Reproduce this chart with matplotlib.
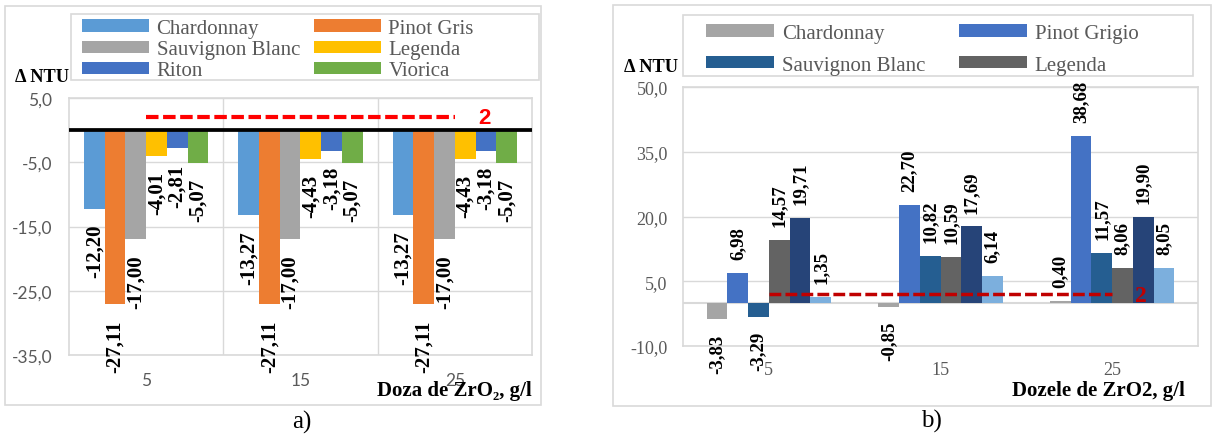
import numpy as np
import matplotlib.pyplot as plt
from matplotlib.patches import Rectangle

doses = ['5', '15', '25']
limit = 2

# a) turbidity change after ZrO2 treatment
a_names = ['Chardonnay', 'Pinot Gris', 'Sauvignon Blanc', 'Legenda', 'Riton', 'Viorica']
a_chardonnay = [-12.20, -13.27, -13.27]
a_pinot_gris = [-27.11, -27.11, -27.11]
a_sauvignon = [-17.00, -17.00, -17.00]
a_legenda = [-4.01, -4.43, -4.43]
a_riton = [-2.81, -3.18, -3.18]
a_viorica = [-5.07, -5.07, -5.07]
a_colors = ['#5B9BD5', '#ED7D31', '#A5A5A5', '#FFC000', '#4472C4', '#70AD47']

# b) same doses, second set of wines (only first four named in legend)
b_names = ['Chardonnay', 'Pinot Grigio', 'Sauvignon Blanc', 'Legenda', 'Riton', 'Viorica']
b_chardonnay = [-3.83, -0.85, 0.40]
b_pinot_grigio = [6.98, 22.70, 38.68]
b_sauvignon = [-3.29, 10.82, 11.57]
b_legenda = [14.57, 10.59, 8.06]
b_riton = [19.71, 17.69, 19.90]
b_viorica = [1.35, 6.14, 8.05]
b_colors = ['#A5A5A5', '#4472C4', '#255E91', '#636363', '#264478', '#7CAFDD']
b_in_legend = 4

W, H = 1214, 439
GRID = '#D9D9D9'
GRAY = '#595959'
SERIF = ['Liberation Serif', 'DejaVu Serif']

fig = plt.figure(figsize=(W / 100, H / 100), dpi=100)


def rect(x0, y0, x1, y1):
    # pixel box (origin top-left) -> figure fraction
    return [x0 / W, 1 - y1 / H, (x1 - x0) / W, (y1 - y0) / H]


def frame(x0, y0, x1, y1):
    r = rect(x0, y0, x1, y1)
    fig.add_artist(Rectangle((r[0], r[1]), r[2], r[3], transform=fig.transFigure,
                             fill=False, ec=GRID, lw=1.2))


def grouped_bars(ax, series, colors, names, width, nlegend, labsize, gap):
    x = np.arange(len(doses))
    n = len(series)
    for i, (vals, c, name) in enumerate(zip(series, colors, names)):
        xs = x + (i - (n - 1) / 2) * width
        ax.bar(xs, vals, width, color=c, zorder=2,
               label=name if i < nlegend else '_nolegend_')
        for xi, v in zip(xs, vals):
            ax.annotate(f'{v:.2f}'.replace('.', ','), (xi, v),
                        xytext=(0, gap if v > 0 else -gap), textcoords='offset points',
                        rotation=90, ha='center', va='bottom' if v > 0 else 'top',
                        fontsize=labsize, fontweight='bold', family=SERIF, zorder=5)
    ax.set_xticks(x)
    ax.set_xticklabels(doses)
    ax.set_xlim(-0.5, len(doses) - 0.5)
    ax.set_axisbelow(True)
    ax.yaxis.grid(True, color=GRID, lw=1)
    for s in ax.spines.values():
        s.set_color(GRID)
        s.set_linewidth(1.2)
    return x


def row_legend(ax, anchor, **kw):
    # legend filled row by row in two columns
    h, l = ax.get_legend_handles_labels()
    order = list(range(0, len(h), 2)) + list(range(1, len(h), 2))
    fig.legend([h[i] for i in order], [l[i] for i in order], loc='upper left',
               bbox_to_anchor=anchor, ncol=2, frameon=False,
               prop={'family': SERIF, 'size': 15}, labelcolor=GRAY,
               handleheight=0.53, handletextpad=0.38, borderpad=0, borderaxespad=0, **kw)


# ---------------- a) ----------------
frame(5, 7, 541, 406)
ax1 = fig.add_axes(rect(69, 99, 532, 356))
xa = grouped_bars(ax1, [a_chardonnay, a_pinot_gris, a_sauvignon, a_legenda, a_riton, a_viorica],
                  a_colors, a_names, 0.134, 6, 15, 11)
ax1.set_ylim(-35, 5)
ax1.set_yticks(np.arange(-35, 6, 10))
ax1.set_yticklabels([f'{t:.1f}'.replace('.', ',') for t in np.arange(-35, 6, 10)])
for b in xa[:-1] + 0.5:
    ax1.axvline(b, color=GRID, lw=1, zorder=0)
ax1.axhline(0, color='black', lw=2.7, zorder=3)
ax1.plot([xa[0], xa[-1]], [limit, limit], color='#FF0000', lw=3, ls=(0, (3, 1.1)), zorder=4)
ax1.text(xa[-1] + 0.19, limit, str(limit), color='#FF0000', fontsize=16, fontweight='bold',
         family='Liberation Sans', ha='center', va='center', zorder=6)
ax1.tick_params(length=0, labelsize=12.5, labelcolor=GRAY)
ax1.tick_params(axis='y', pad=12)
ax1.tick_params(axis='x', pad=12)
for t in ax1.get_xticklabels() + ax1.get_yticklabels():
    t.set_family('Lato')

frame(71, 15, 539, 81)
row_legend(ax1, (82 / W, 1 - 20 / H), handlelength=3.2, columnspacing=0.67, labelspacing=0.1)

fig.text(69 / W, 1 - 78 / H, 'Δ NTU', ha='right', va='center', fontsize=13.2,
         fontweight='bold', family=SERIF)
fig.text(532 / W, 1 - 391 / H, 'Doza de ZrO₂, g/l', ha='right', va='center', fontsize=15,
         fontweight='bold', family=SERIF)
fig.text(302 / W, 1 - 422 / H, 'a)', ha='center', va='center', fontsize=18, family=SERIF)

# ---------------- b) ----------------
frame(613, 6, 1211, 407)
ax2 = fig.add_axes(rect(683, 88, 1198, 347))
xb = grouped_bars(ax2, [b_chardonnay, b_pinot_grigio, b_sauvignon, b_legenda, b_riton, b_viorica],
                  b_colors, b_names, 0.121, b_in_legend, 13.6, 10)
ax2.set_ylim(-10, 50)
ax2.set_yticks(np.arange(-10, 51, 15))
ax2.set_yticklabels([f'{t:.1f}'.replace('.', ',') for t in np.arange(-10, 51, 15)])
ax2.axhline(0, color=GRID, lw=1.5, zorder=1.5)
ax2.plot([xb[0], xb[-1]], [limit, limit], color='#C00000', lw=2.5, ls=(0, (3.4, 1.2)), zorder=4)
ax2.text(xb[-1] + 0.17, limit - 0.4, str(limit), color='#C00000', fontsize=17, fontweight='bold',
         family=SERIF, ha='center', va='center', zorder=6)
ax2.tick_params(length=0, labelsize=13, labelcolor=GRAY, pad=11)
for t in ax2.get_xticklabels() + ax2.get_yticklabels():
    t.set_family(SERIF)

frame(683, 16, 1193, 77)
row_legend(ax2, (706 / W, 1 - 25 / H), handlelength=3.25, columnspacing=1.63, labelspacing=0.6)

fig.text(678 / W, 1 - 68 / H, 'Δ NTU', ha='right', va='center', fontsize=13.2,
         fontweight='bold', family=SERIF)
fig.text(1185 / W, 1 - 391 / H, 'Dozele de ZrO2, g/l', ha='right', va='center', fontsize=15,
         fontweight='bold', family=SERIF)
fig.text(931 / W, 1 - 421 / H, 'b)', ha='center', va='center', fontsize=18, family=SERIF)

fig.savefig('out.png', dpi=100)
